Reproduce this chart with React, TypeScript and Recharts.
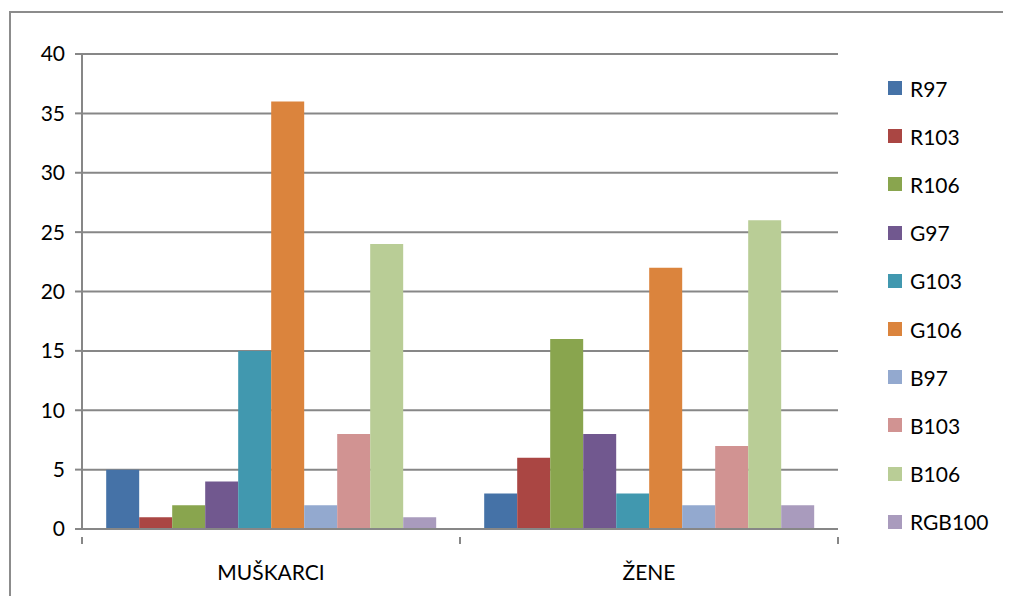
import { BarChart, Bar, XAxis, YAxis, CartesianGrid } from 'recharts';

const categories = ['MUŠKARCI', 'ŽENE'];
const seriesNames = ['R97', 'R103', 'R106', 'G97', 'G103', 'G106', 'B97', 'B103', 'B106', 'RGB100'];
const muskarci = [5, 1, 2, 4, 15, 36, 2, 8, 24, 1];
const zene = [3, 6, 16, 8, 3, 22, 2, 7, 26, 2];
const yTicks = [0, 5, 10, 15, 20, 25, 30, 35, 40];
const colors = ['#4572A7', '#AA4643', '#89A54E', '#71588F', '#4198AF', '#DB843D', '#93A9CF', '#D19392', '#B9CD96', '#A99BBD'];

const values = [muskarci, zene];
const data = categories.map((name, ci) => {
  const row: Record<string, string | number> = { name };
  seriesNames.forEach((s, si) => {
    row[s] = values[ci][si];
  });
  return row;
});

const FONT = 'Lato, "Open Sans", sans-serif';
const GRAY = '#878787';

function CategoryTick(props: any) {
  const { x, y, payload, index } = props;
  const half = payload.offset ?? 0;
  return (
    <g>
      <line x1={x - half} y1={y} x2={x - half} y2={y + 7} stroke={GRAY} strokeWidth={2} />
      {index === categories.length - 1 && (
        <line x1={x + half} y1={y} x2={x + half} y2={y + 7} stroke={GRAY} strokeWidth={2} />
      )}
      <text x={x} y={y + 43} textAnchor="middle" fontSize={21} fill="#000" fontFamily={FONT}>
        {payload.value}
      </text>
    </g>
  );
}

function LegendList() {
  return (
    <div
      style={{
        position: 'absolute',
        left: 880,
        top: 56,
        fontFamily: FONT,
        fontSize: 21,
        color: '#000',
      }}
    >
      {seriesNames.map((s, i) => (
        <div key={s} style={{ display: 'flex', alignItems: 'center', height: 48.2 }}>
          <span style={{ width: 14, height: 14, background: colors[i], display: 'inline-block', marginRight: 8 }} />
          <span>{s}</span>
        </div>
      ))}
    </div>
  );
}

export default function App() {
  return (
    <div style={{ width: 1003, height: 588, overflow: 'hidden', position: 'relative' }}>
      <div
        style={{
          position: 'absolute',
          left: 1,
          top: 3,
          width: 1100,
          height: 700,
          border: '2px solid #8c8c8c',
          boxSizing: 'border-box',
        }}
      />
      <div style={{ position: 'absolute', left: 0, top: 0 }}>
        <BarChart
          width={1003}
          height={588}
          data={data}
          margin={{ top: 46, right: 173, bottom: 7, left: 0 }}
          barCategoryGap="6.4%"
          barGap={0}
        >
          <CartesianGrid vertical={false} stroke={GRAY} strokeWidth={2} />
          <XAxis
            dataKey="name"
            axisLine={{ stroke: GRAY, strokeWidth: 2 }}
            tickLine={false}
            tick={<CategoryTick />}
            height={60}
            interval={0}
          />
          <YAxis
            width={74}
            domain={[0, 40]}
            ticks={yTicks}
            interval={0}
            axisLine={{ stroke: GRAY, strokeWidth: 2 }}
            tickLine={{ stroke: GRAY, strokeWidth: 2 }}
            tickSize={7}
            tickMargin={10}
            tick={{ fontSize: 21, fill: '#000', fontFamily: FONT }}
          />
          {seriesNames.map((s, i) => (
            <Bar key={s} dataKey={s} fill={colors[i]} isAnimationActive={false} />
          ))}
        </BarChart>
      </div>
      <LegendList />
    </div>
  );
}
